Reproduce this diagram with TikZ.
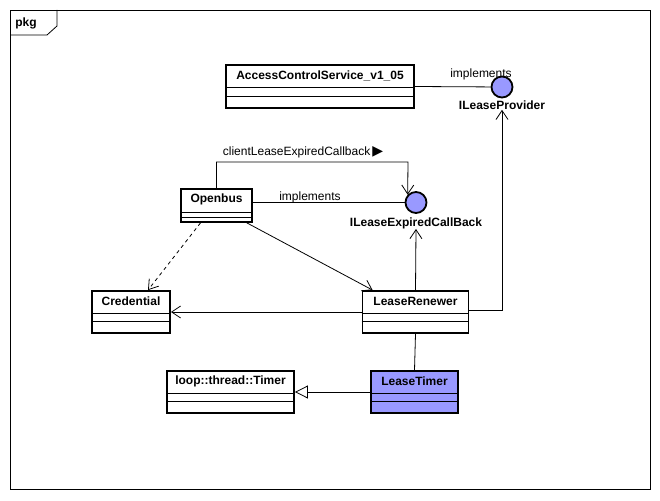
\documentclass[tikz,border=0pt]{standalone}
\usepackage{fontspec}
\setmainfont{Liberation Sans}
\newfontfamily\symbfont{DejaVu Sans}
\usetikzlibrary{arrows.meta}
\definecolor{umlblue}{RGB}{153,153,255}
\tikzset{
	cls/.style={draw, line width=1.8pt, inner sep=0pt},
	clsname/.style={font=\fontsize{12}{14}\selectfont\bfseries, inner sep=0pt},
	iface/.style={circle, draw, line width=1.8pt, fill=umlblue, minimum size=21pt, inner sep=0pt},
	txt/.style={font=\fontsize{12}{14}\selectfont, inner sep=0pt},
	assoc/.style={-{Straight Barb[length=9pt,width=12pt]}},
	gen/.style={-{Triangle[open,length=13pt,width=13pt,fill=white]}}
}
\begin{document}
\begin{tikzpicture}[x=1pt,y=-1pt,line width=0.8pt]
	\useasboundingbox (0,0) rectangle (660,500);
	% frame and tab
	\draw (10,10) rectangle (650,489);
	\draw (10,35) -- (47,35) -- (57,26) -- (57,10);
	\node[clsname] (pkg) at (26,23) {pkg};
	% classes: center, width, height
	\node[cls, minimum width=188pt, minimum height=43pt] (acs) at (320,86.5) {};
	\node[cls, minimum width=71pt, minimum height=33pt] (ob) at (216.5,205.5) {};
	\node[cls, minimum width=78pt, minimum height=42pt] (cred) at (131,312) {};
	\node[cls, minimum width=106pt, minimum height=42pt] (lr) at (415.5,312) {};
	\node[cls, minimum width=127pt, minimum height=42pt] (tmr) at (230.5,392) {};
	\node[cls, fill=umlblue, minimum width=87pt, minimum height=42pt] (lt) at (414.5,392) {};
	\node[clsname] (acsT) at ([yshift=-11.5pt]acs.north) {AccessControlService\_v1\_05};
	\node[clsname] (obT) at ([yshift=-11.5pt]ob.north) {Openbus};
	\node[clsname] (credT) at ([yshift=-11.5pt]cred.north) {Credential};
	\node[clsname] (lrT) at ([yshift=-11.5pt]lr.north) {LeaseRenewer};
	\node[clsname] (tmrT) at ([yshift=-11.5pt]tmr.north) {loop::thread::Timer};
	\node[clsname] (ltT) at ([yshift=-11.5pt]lt.north) {LeaseTimer};
	\foreach \n/\w/\a/\b in {acs/188/23/32, ob/71/24/29, cred/78/23/31, lr/106/23/31, tmr/127/23/31, lt/87/23/31}
		\draw (\n.north west) ++(0,\a) -- ++(\w,0) (\n.north west) ++(0,\b) -- ++(\w,0);
	% interfaces
	\node[iface] (ilp) at (502,87) {};
	\node[clsname] (ilpL) at (502,105) {ILeaseProvider};
	\node[iface] (iecb) at (416,202.5) {};
	\node[clsname] (iecbL) at (416,223) {ILeaseExpiredCallBack};
	\node[txt] (impl1) at (481,74) {implements};
	\node[txt] (impl2) at (310,197) {implements};
	\node[txt] (cbk) at (303,152) {clientLeaseExpiredCallback\,{\symbfont\fontsize{14}{14}\selectfont ▶}};
	% connectors
	\draw (acs.east) -- (ilp);
	\draw (ob.east |- iecb) -- (iecb);
	\coordinate (cbkTurn) at (408,162);
	\draw[assoc] (ob.north) |- (cbkTurn) -- (iecb.137);
	\draw[assoc, dashed, dash pattern=on 3.5pt off 3.5pt] ([xshift=-16pt]ob.south) -- ([xshift=17pt]cred.north);
	\draw[assoc] ([xshift=-6pt]ob.south east) -- ([xshift=11pt]lr.north west);
	\draw[assoc] (lr.west) -- (cred.east);
	\draw[assoc] (lr.north) -- (iecbL.south);
	\draw[assoc] ([yshift=2pt]lr.east) -| (ilpL.south);
	\draw (lr.south) -- (lt.north);
	\draw[gen] (lt.west) -- (tmr.east);
\end{tikzpicture}
\end{document}
